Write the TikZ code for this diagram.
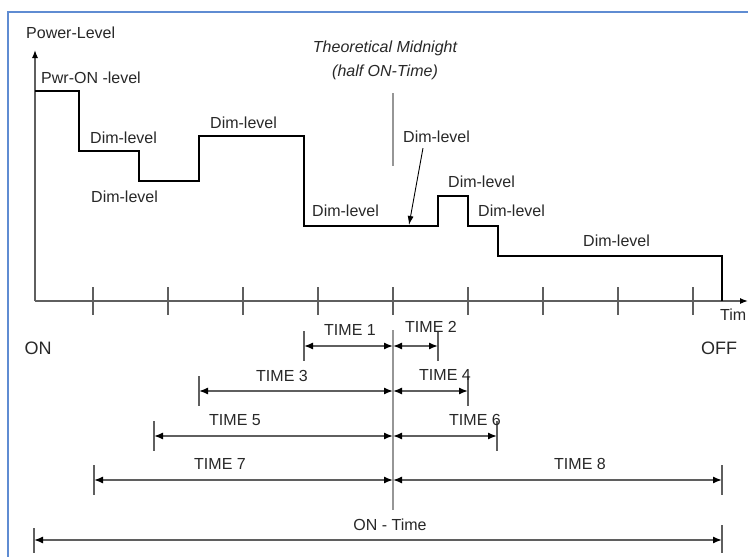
\documentclass[tikz,border=0pt]{standalone}
\usepackage{fontspec}
\setmainfont{Liberation Sans}
\usetikzlibrary{arrows.meta,calc}
\definecolor{framebl}{RGB}{95,140,210}
\definecolor{axgray}{RGB}{95,95,95}
\definecolor{midgray}{RGB}{150,150,150}
\definecolor{txtgray}{RGB}{40,40,40}
\tikzset{
  lbl/.style={font=\fontsize{16}{18}\selectfont,text=txtgray,inner sep=0pt},
  biglbl/.style={font=\fontsize{18}{20}\selectfont,text=txtgray,inner sep=0pt},
  axisline/.style={draw=axgray,line width=1.3pt},
  levelline/.style={draw=black,line width=2.4pt},
  dimline/.style={draw=axgray,line width=1.4pt,
    {Latex[length=9pt,width=7pt,color=black]}-{Latex[length=9pt,width=7pt,color=black]}},
  endtick/.style={draw=axgray,line width=1.4pt},
  pointer/.style={draw=black,line width=0.9pt,-{Latex[length=9pt,width=6pt]}},
}
\begin{document}
\begin{tikzpicture}[x=1pt,y=-1pt]
\useasboundingbox (0,0) rectangle (748,557);
\clip (0,0) rectangle (748,557);
\fill[white] (0,0) rectangle (748,557);
\draw[framebl,line width=1.6pt] (800,12) -- (8,12) -- (8,600);

% axes
\coordinate (O) at (35,301);
\coordinate (ytop) at (35,50);
\coordinate (xend) at (748,301);
\draw[axisline,-{Latex[length=8pt,width=6pt,color=black]}] (O) -- (ytop);
\draw[axisline,-{Latex[length=8pt,width=6pt,color=black]}] (O) -- (xend);
\foreach \i in {0,...,8}
{
\coordinate (t\i) at (93+75*\i,301);
\draw[axisline] ([yshift=14pt]t\i) -- ([yshift=-14pt]t\i);
}

\node[lbl,anchor=west] (ylab) at (26,33) {Power-Level};
\node[lbl,anchor=west] (xlab) at (720,315) {Tim};
\node[biglbl] (on) at (38,348) {ON};
\node[biglbl] (off) at (719,348) {OFF};

% power levels
\draw[levelline] (35,91) -| (79,151) -| (139,181) -| (199,136) -| (304,226)
  -| (438,196) -| (468,226) -| (498,256) -| (722,301);

\node[lbl,anchor=west] (pwr) at (41,78) {Pwr-ON -level};
\node[lbl,anchor=west] (dim1) at (90,138) {Dim-level};
\node[lbl,anchor=west] (dim2) at (91,197) {Dim-level};
\node[lbl,anchor=west] (dim3) at (210,123) {Dim-level};
\node[lbl,anchor=west] (dim4) at (312,211) {Dim-level};
\node[lbl,anchor=west] (dim5) at (403,137) {Dim-level};
\node[lbl,anchor=west] (dim6) at (448,182) {Dim-level};
\node[lbl,anchor=west] (dim7) at (478,211) {Dim-level};
\node[lbl,anchor=west] (dim8) at (583,241) {Dim-level};

\coordinate (mid) at (409,225);
\draw[pointer] ([xshift=20pt,yshift=-5pt]dim5.south west) -- (mid);

% midnight
\node[lbl,font=\fontsize{16}{18}\selectfont\itshape] (mn1) at (385,48) {Theoretical Midnight};
\node[lbl,font=\fontsize{16}{18}\selectfont\itshape] (mn2) at (385,72) {(half ON-Time)};
\coordinate (mtop) at (393,93);
\coordinate (mbot) at (393,166);
\draw[midgray,line width=2pt] (mtop) -- (mbot);

\coordinate (ctop) at (393,330);
\coordinate (cbot) at (393,510);
\draw[midgray,line width=1.6pt] (ctop) -- (cbot);

% time spans
\foreach \n/\xl/\xr/\y in {1/304/438/346, 2/199/468/391, 3/154/497/436, 4/94/722/480}
{
\coordinate (L\n) at (\xl,\y);
\coordinate (R\n) at (\xr,\y);
\coordinate (M\n) at (393,\y);
\draw[dimline] (L\n) -- (M\n);
\draw[dimline] (M\n) -- (R\n);
\draw[endtick] ([yshift=15pt]L\n) -- ([yshift=-15pt]L\n);
\draw[endtick] ([yshift=15pt]R\n) -- ([yshift=-15pt]R\n);
}

\node[lbl] (time1) at (350,330) {TIME 1};
\node[lbl] (time2) at (431,327) {TIME 2};
\node[lbl] (time3) at (282,376) {TIME 3};
\node[lbl] (time4) at (445,375) {TIME 4};
\node[lbl] (time5) at (235,420) {TIME 5};
\node[lbl] (time6) at (475,420) {TIME 6};
\node[lbl] (time7) at (220,464) {TIME 7};
\node[lbl] (time8) at (580,464) {TIME 8};

\coordinate (onL) at (34,540);
\coordinate (onR) at (722,540);
\draw[dimline] (onL) -- (onR);
\draw[endtick] ([yshift=12pt]onL) -- ([yshift=-13pt]onL);
\draw[endtick] ([yshift=15pt]onR) -- ([yshift=-13pt]onR);
\node[lbl] (ontime) at (390,525) {ON - Time};
\end{tikzpicture}
\end{document}
